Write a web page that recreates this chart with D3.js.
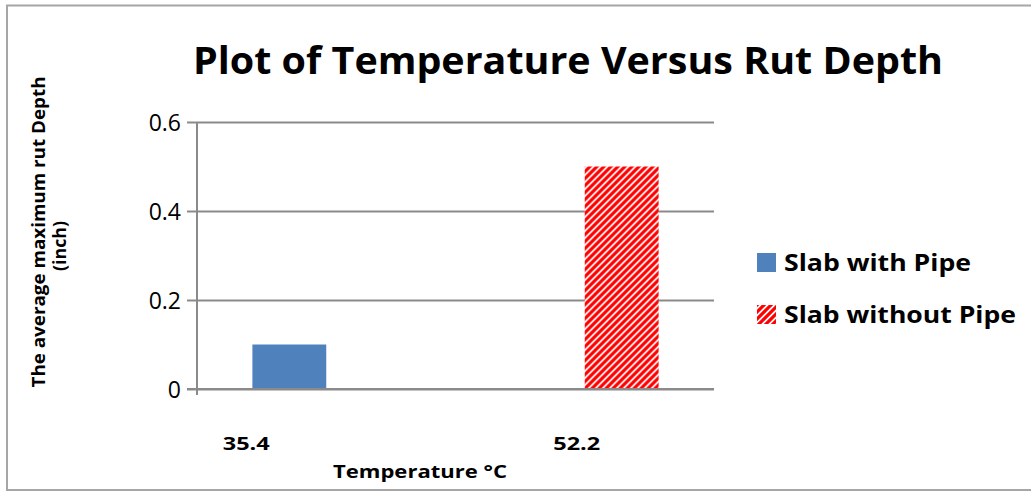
<!DOCTYPE html>
<html>
<head>
<meta charset="utf-8">
<script src="https://cdn.jsdelivr.net/npm/d3@7"></script>
<style>
  html, body { margin: 0; padding: 0; background: #fff; }
  svg { display: block; font-family: "Open Sans", "Noto Sans", sans-serif; }
</style>
</head>
<body>
<svg id="chart" width="1031" height="491"></svg>
<script>
// Rut depth by test temperature
const categories = ["35.4", "52.2"];
const seriesNames = ["Slab with Pipe", "Slab without Pipe"];
const slabWithPipe = [0.1, 0];
const slabWithoutPipe = [0, 0.5];
const yTicks = [0, 0.2, 0.4, 0.6];

const chartTitle = "Plot of Temperature Versus Rut Depth";
const xTitle = "Temperature \u00B0C";
const yTitleLines = ["The average maximum rut Depth", "(inch)"];

const svg = d3.select("#chart");
const W = 1031, H = 491;
const plot = { left: 197, right: 714, top: 122, bottom: 389 };

const gridColor = "#8a8a8a";
const blue = "#4F81BD";
const red = "#FF0000";

// hatch fill for the second series
const defs = svg.append("defs");
const pat = defs.append("pattern")
  .attr("id", "hatch")
  .attr("patternUnits", "userSpaceOnUse")
  .attr("width", 7).attr("height", 7);
pat.append("rect").attr("width", 7).attr("height", 7).attr("fill", "#fff");
pat.append("path")
  .attr("d", "M-1.75,1.75 L1.75,-1.75 M0,7 L7,0 M5.25,8.75 L8.75,5.25")
  .attr("stroke", red).attr("stroke-width", 3.2);

// outer frame
svg.append("rect")
  .attr("x", 7).attr("y", 5.5)
  .attr("width", W).attr("height", 484.5)
  .attr("fill", "#fff")
  .attr("stroke", "#a6a6a6").attr("stroke-width", 2);

// scales
const y = d3.scaleLinear().domain([0, 0.6]).range([plot.bottom, plot.top]);
const x0 = d3.scaleBand().domain(categories).range([plot.left, plot.right]).padding(0);
const bw = x0.bandwidth();
const barW = bw / 3.5; // gap width 150%
const x1 = d3.scaleBand().domain(seriesNames)
  .range([barW * 0.75, bw - barW * 0.75]).padding(0);

// gridlines + y ticks
const yAxis = d3.axisLeft(y).tickValues(yTicks).tickSize(10).tickFormat(d3.format(""));
const gy = svg.append("g").attr("transform", `translate(${plot.left},0)`).call(yAxis);
gy.select(".domain").remove();
gy.selectAll(".tick line").attr("stroke", gridColor).attr("stroke-width", 2);
gy.selectAll(".tick text")
  .attr("x", -16).attr("dy", "0.37em")
  .attr("font-size", 23).attr("fill", "#000")
  .attr("font-family", "Open Sans");
gy.selectAll(".tick").append("line")
  .attr("x1", 0).attr("x2", plot.right - plot.left)
  .attr("stroke", gridColor).attr("stroke-width", 2);

// y axis line
svg.append("line")
  .attr("x1", plot.left).attr("x2", plot.left)
  .attr("y1", plot.top).attr("y2", plot.bottom + 6)
  .attr("stroke", gridColor).attr("stroke-width", 2);

// bars
const rows = categories.map((c, i) => ({
  cat: c,
  values: [
    { name: seriesNames[0], v: slabWithPipe[i], fill: blue },
    { name: seriesNames[1], v: slabWithoutPipe[i], fill: "url(#hatch)" }
  ]
}));
const groups = svg.append("g").selectAll("g").data(rows).join("g")
  .attr("transform", d => `translate(${x0(d.cat)},0)`);
groups.selectAll("rect").data(d => d.values.filter(v => v.v > 0)).join("rect")
  .attr("x", d => x1(d.name))
  .attr("width", x1.bandwidth())
  .attr("y", d => y(d.v))
  .attr("height", d => y(0) - y(d.v))
  .attr("fill", d => d.fill);

// baseline redrawn on top of bars
svg.append("line")
  .attr("x1", plot.left - 10).attr("x2", plot.right)
  .attr("y1", y(0)).attr("y2", y(0))
  .attr("stroke", gridColor).attr("stroke-width", 2);

// category labels
const catOffsets = [-80, -8];
svg.append("g").selectAll("text").data(categories).join("text")
  .attr("x", (d, i) => x0(d) + bw / 2 + catOffsets[i])
  .attr("y", 450)
  .attr("text-anchor", "middle")
  .attr("font-weight", "bold").attr("font-size", 18)
  .attr("textLength", 47).attr("lengthAdjust", "spacingAndGlyphs")
  .text(d => d);

// x title
svg.append("text")
  .attr("x", 420).attr("y", 478)
  .attr("text-anchor", "middle")
  .attr("font-weight", "bold").attr("font-size", 18)
  .attr("textLength", 174).attr("lengthAdjust", "spacingAndGlyphs")
  .text(xTitle);

// y title
const yt = svg.append("g").attr("transform", "translate(45,232) rotate(-90)");
yt.append("text")
  .attr("x", 0).attr("y", 0)
  .attr("text-anchor", "middle")
  .attr("font-weight", "bold").attr("font-size", 18)
  .attr("textLength", 311).attr("lengthAdjust", "spacingAndGlyphs")
  .text(yTitleLines[0]);
yt.append("text")
  .attr("x", -14).attr("y", 21)
  .attr("text-anchor", "middle")
  .attr("font-weight", "bold").attr("font-size", 18)
  .attr("textLength", 50).attr("lengthAdjust", "spacingAndGlyphs")
  .text(yTitleLines[1]);

// chart title
svg.append("text")
  .attr("x", 568).attr("y", 74)
  .attr("text-anchor", "middle")
  .attr("font-weight", "bold").attr("font-size", 38)
  .attr("textLength", 750).attr("lengthAdjust", "spacingAndGlyphs")
  .text(chartTitle);

// legend
const legendFills = [blue, "url(#hatch)"];
const legendWidths = [187, 232];
const lg = svg.append("g").selectAll("g").data(seriesNames).join("g")
  .attr("transform", (d, i) => `translate(757,${253 + i * 52})`);
lg.append("rect").attr("width", 19).attr("height", 19)
  .attr("fill", (d, i) => legendFills[i]);
lg.append("text")
  .attr("x", 27).attr("y", 18)
  .attr("font-weight", "bold").attr("font-size", 23)
  .attr("textLength", (d, i) => legendWidths[i]).attr("lengthAdjust", "spacingAndGlyphs")
  .text(d => d);
</script>
</body>
</html>
